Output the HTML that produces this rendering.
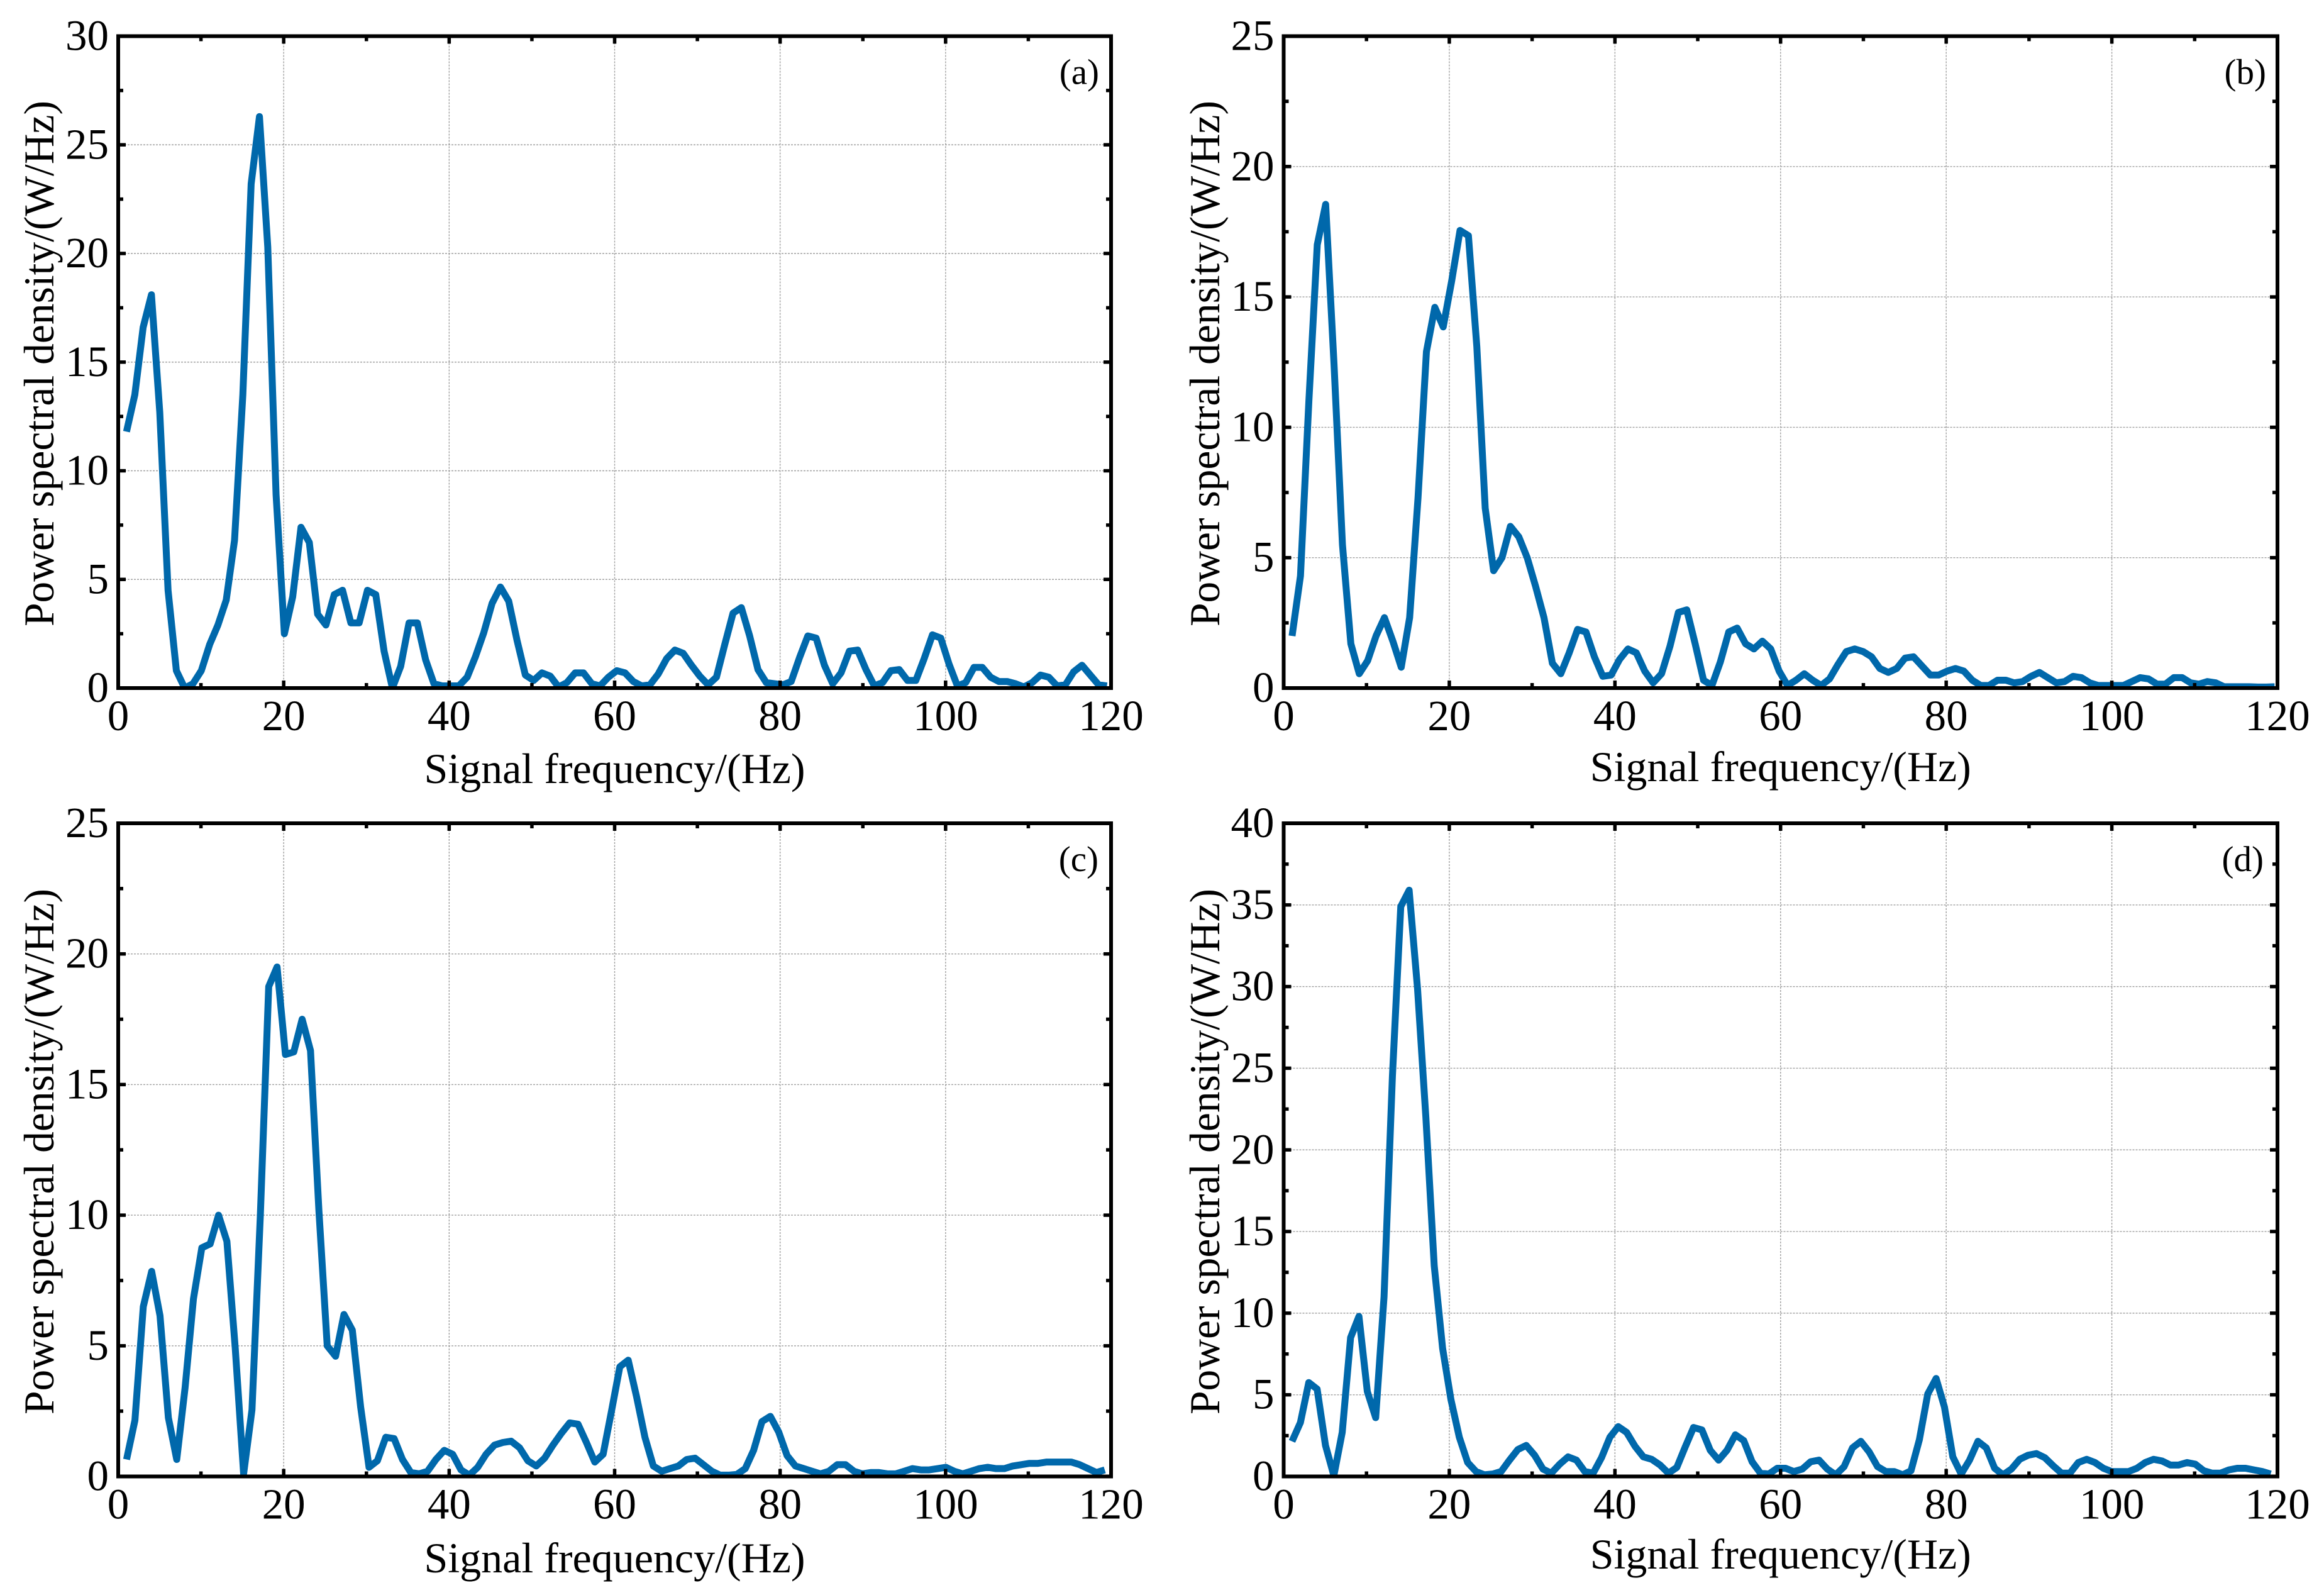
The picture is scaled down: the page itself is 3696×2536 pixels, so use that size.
<!DOCTYPE html>
<html lang="en">
<head>
<meta charset="utf-8">
<title>Power spectral density panels</title>
<style>
  html, body { margin: 0; padding: 0; background: #ffffff; }
  body { width: 3696px; height: 2536px; overflow: hidden; }
  svg { display: block; }
  text { font-family: "Liberation Serif", "Times New Roman", serif; fill: #000000; }
</style>
</head>
<body>
<svg id="chart" xmlns="http://www.w3.org/2000/svg" width="3696" height="2536" viewBox="0 0 3696 2536"></svg>
<script>
const xTickLabels = [0, 20, 40, 60, 80, 100, 120];
const xLabelText = "Signal frequency/(Hz)";
const yLabelText = "Power spectral density/(W/Hz)";

const panelATicks = [0, 5, 10, 15, 20, 25, 30];
const panelBTicks = [0, 5, 10, 15, 20, 25];
const panelCTicks = [0, 5, 10, 15, 20, 25];
const panelDTicks = [0, 5, 10, 15, 20, 25, 30, 35, 40];

const panelABinHz = 1.0042;
const panelBBinHz = 1.014;
const panelCBinHz = 1.0105;
const panelDBinHz = 1.01;

const panelAValues = [11.8,13.5,16.6,18.1,12.7,4.5,0.8,0,0.2,0.8,
  2.0,2.9,4.05,6.8,13.5,23.2,26.3,20.3,8.9,2.5,
  4.2,7.4,6.7,3.4,2.9,4.3,4.5,3.0,3.0,4.5,
  4.3,1.7,0,1.0,3.0,3.0,1.3,0.2,0.1,0.1,
  0.1,0.5,1.45,2.55,3.9,4.65,4.0,2.2,0.6,0.35,
  0.7,0.55,0.05,0.25,0.7,0.7,0.2,0.1,0.5,0.8,
  0.7,0.3,0.1,0.15,0.65,1.35,1.75,1.6,1.05,0.55,
  0.15,0.5,2.0,3.45,3.7,2.4,0.85,0.25,0.2,0.15,
  0.3,1.4,2.4,2.3,1.05,0.2,0.7,1.7,1.75,0.85,
  0.1,0.25,0.8,0.85,0.35,0.35,1.35,2.45,2.3,1.1,
  0.1,0.25,0.95,0.95,0.5,0.3,0.3,0.2,0.05,0.25,
  0.6,0.5,0.1,0.15,0.75,1.05,0.6,0.15,0.1];

const panelBValues = [2.0,4.3,11,17.0,18.55,12.4,5.5,1.7,0.55,1.05,
  2.0,2.7,1.8,0.8,2.7,7.3,12.9,14.6,13.85,15.6,
  17.55,17.35,13.1,6.9,4.5,5.0,6.2,5.8,5.0,3.9,
  2.7,0.95,0.55,1.35,2.25,2.15,1.2,0.45,0.5,1.1,
  1.5,1.35,0.65,0.2,0.55,1.6,2.9,3.0,1.7,0.3,
  0.1,1.0,2.15,2.3,1.7,1.5,1.8,1.5,0.65,0.1,
  0.3,0.55,0.3,0.1,0.35,0.9,1.4,1.5,1.4,1.2,
  0.75,0.6,0.75,1.15,1.2,0.85,0.5,0.5,0.65,0.75,
  0.65,0.3,0.1,0.1,0.3,0.3,0.2,0.25,0.45,0.6,
  0.4,0.2,0.25,0.45,0.4,0.2,0.1,0.1,0.1,0.1,
  0.25,0.4,0.35,0.15,0.15,0.4,0.4,0.2,0.15,0.25,
  0.2,0.05,0.05,0.05,0.05,0.04,0.04,0.05];

const panelCValues = [0.65,2.15,6.5,7.85,6.15,2.25,0.65,3.4,6.8,8.75,
  8.9,10,9,4.9,0.1,2.55,10,18.75,19.5,16.15,
  16.25,17.5,16.3,10.2,5,4.6,6.2,5.6,2.65,0.35,
  0.6,1.5,1.45,0.65,0.15,0.1,0.2,0.65,1,0.85,
  0.25,0.05,0.35,0.85,1.2,1.3,1.35,1.1,0.6,0.4,
  0.7,1.2,1.65,2.05,2.0,1.3,0.55,0.85,2.5,4.2,
  4.45,3.05,1.5,0.4,0.2,0.3,0.4,0.65,0.7,0.45,
  0.2,0.05,0.05,0.08,0.3,1.0,2.1,2.3,1.7,0.8,
  0.4,0.3,0.2,0.1,0.2,0.45,0.45,0.2,0.1,0.15,
  0.15,0.1,0.1,0.2,0.3,0.25,0.25,0.3,0.35,0.2,
  0.1,0.2,0.3,0.35,0.3,0.3,0.4,0.45,0.5,0.5,
  0.55,0.55,0.55,0.55,0.45,0.3,0.15,0.25];

const panelDValues = [2.15,3.3,5.75,5.35,1.9,0.05,2.7,8.5,9.8,5.2,
  3.6,11,24.5,34.9,35.9,29.9,22.0,12.9,7.85,4.7,
  2.4,0.85,0.3,0.1,0.15,0.3,1.0,1.65,1.9,1.3,
  0.45,0.2,0.75,1.2,1.0,0.3,0.2,1.15,2.4,3.05,
  2.7,1.85,1.2,1.05,0.7,0.2,0.55,1.8,3.0,2.85,
  1.6,1.0,1.6,2.55,2.2,0.9,0.2,0.15,0.5,0.5,
  0.3,0.45,0.9,1.0,0.45,0.1,0.6,1.75,2.15,1.5,
  0.6,0.3,0.3,0.1,0.35,2.25,5.05,6.0,4.25,1.2,
  0.15,1.0,2.15,1.75,0.5,0.1,0.45,1.05,1.3,1.4,
  1.15,0.65,0.2,0.2,0.85,1.05,0.85,0.5,0.3,0.3,
  0.3,0.5,0.85,1.05,0.95,0.7,0.7,0.85,0.75,0.35,
  0.2,0.2,0.4,0.5,0.5,0.4,0.3,0.15];

const svg = document.getElementById('chart');
const NS = 'http://www.w3.org/2000/svg';

function make(tag, geometry, parent) {
  const el = document.createElementNS(NS, tag);
  for (const key in geometry) el.setAttribute(key, geometry[key]);
  parent.appendChild(el);
  return el;
}

function drawPanel(p) {
  const xScale = v => p.left + (v / 120) * (p.right - p.left);
  const yMax = p.ticks[p.ticks.length - 1];
  const yScale = v => p.bottom - (v / yMax) * (p.bottom - p.top);

  const group = make('g', {}, svg);
  
  

  const clip = make('clipPath', { id: 'clip-' + p.id }, group);
  make('rect', { x: p.left, y: p.top, width: p.right - p.left, height: p.bottom - p.top }, clip);

  // grid
  xTickLabels.slice(1, -1).forEach(t => {
    const g = make('line', { x1: xScale(t), x2: xScale(t), y1: p.top, y2: p.bottom, stroke: '#a0a0a0', 'stroke-width': 1.4, 'stroke-dasharray': '3 2' }, group);
    
    
  });
  p.ticks.slice(1, -1).forEach(t => {
    const g = make('line', { x1: p.left, x2: p.right, y1: yScale(t), y2: yScale(t), stroke: '#a0a0a0', 'stroke-width': 1.4, 'stroke-dasharray': '3 2' }, group);
    
    
  });

  // series
  const pts = p.values.map((v, i) => xScale((i + 1) * p.binHz).toFixed(2) + ',' + yScale(v).toFixed(2)).join(' ');
  const series = make('polyline', { points: pts, fill: 'none', stroke: '#0068ab', 'stroke-width': 11, 'stroke-linejoin': 'round', 'stroke-linecap': 'butt', 'clip-path': 'url(#clip-' + p.id + ')' }, group);
  
  

  // x ticks (major + minor, bottom and top)
  xTickLabels.forEach((t, i) => {
    if (i > 0 && i < xTickLabels.length - 1) {
      [[p.bottom, -12], [p.top, 12]].forEach(([y, d]) => {
        const m = make('line', { x1: xScale(t), x2: xScale(t), y1: y, y2: y + d, stroke: '#000', 'stroke-width': 5.5 }, group);
        
        
      });
    }
    if (i < xTickLabels.length - 1) {
      const mid = (t + xTickLabels[i + 1]) / 2;
      [[p.bottom, -8], [p.top, 8]].forEach(([y, d]) => {
        const m = make('line', { x1: xScale(mid), x2: xScale(mid), y1: y, y2: y + d, stroke: '#000', 'stroke-width': 5.5 }, group);
        
        
      });
    }
    const label = make('text', { x: xScale(t), y: p.bottom + 67, 'text-anchor': 'middle', 'font-size': 69 }, group);
    
    
    label.textContent = t;
  });

  // y ticks (major + minor, left and right)
  p.ticks.forEach((t, i) => {
    if (i > 0 && i < p.ticks.length - 1) {
      [[p.left, 12], [p.right, -12]].forEach(([x, d]) => {
        const m = make('line', { x1: x, x2: x + d, y1: yScale(t), y2: yScale(t), stroke: '#000', 'stroke-width': 5.5 }, group);
        
        
      });
    }
    if (i < p.ticks.length - 1) {
      const mid = (t + p.ticks[i + 1]) / 2;
      [[p.left, 8], [p.right, -8]].forEach(([x, d]) => {
        const m = make('line', { x1: x, x2: x + d, y1: yScale(mid), y2: yScale(mid), stroke: '#000', 'stroke-width': 5.5 }, group);
        
        
      });
    }
    const label = make('text', { x: p.left - 15, y: yScale(t) + 22, 'text-anchor': 'end', 'font-size': 69 }, group);
    
    
    label.textContent = t;
  });

  // frame
  const frame = make('rect', { x: p.left, y: p.top, width: p.right - p.left, height: p.bottom - p.top, fill: 'none', stroke: '#000', 'stroke-width': 6, 'stroke-linejoin': 'miter' }, group);
  
  

  // titles
  const xt = make('text', { x: (p.left + p.right) / 2, y: p.xTitleY, 'text-anchor': 'middle', 'font-size': 68 }, group);
  
  
  xt.textContent = xLabelText;

  const yt = make('text', { x: 0, y: 0, 'text-anchor': 'start', 'font-size': 67.5, transform: 'translate(' + p.yTitleX + ' ' + p.yTitleY + ') rotate(-90)' }, group);
  
  
  yt.textContent = yLabelText;

  const tag = make('text', { x: p.tagX, y: p.top + 76, 'text-anchor': 'end', 'font-size': 57 }, group);
  
  
  tag.textContent = '(' + p.id + ')';
}

drawPanel({ id: 'a', left: 188, right: 1767, top: 57.5, bottom: 1094, ticks: panelATicks, values: panelAValues, binHz: panelABinHz, xTitleY: 1245, yTitleX: 85, yTitleY: 996, tagX: 1748 });
drawPanel({ id: 'b', left: 2041.5, right: 3622, top: 57.5, bottom: 1094, ticks: panelBTicks, values: panelBValues, binHz: panelBBinHz, xTitleY: 1242, yTitleX: 1939, yTitleY: 996, tagX: 3604 });
drawPanel({ id: 'c', left: 188, right: 1767, top: 1309, bottom: 2347.5, ticks: panelCTicks, values: panelCValues, binHz: panelCBinHz, xTitleY: 2500, yTitleX: 85, yTitleY: 2249, tagX: 1747 });
drawPanel({ id: 'd', left: 2041.5, right: 3622, top: 1309, bottom: 2347.5, ticks: panelDTicks, values: panelDValues, binHz: panelDBinHz, xTitleY: 2494, yTitleX: 1939, yTitleY: 2249, tagX: 3600 });
</script>
</body>
</html>
